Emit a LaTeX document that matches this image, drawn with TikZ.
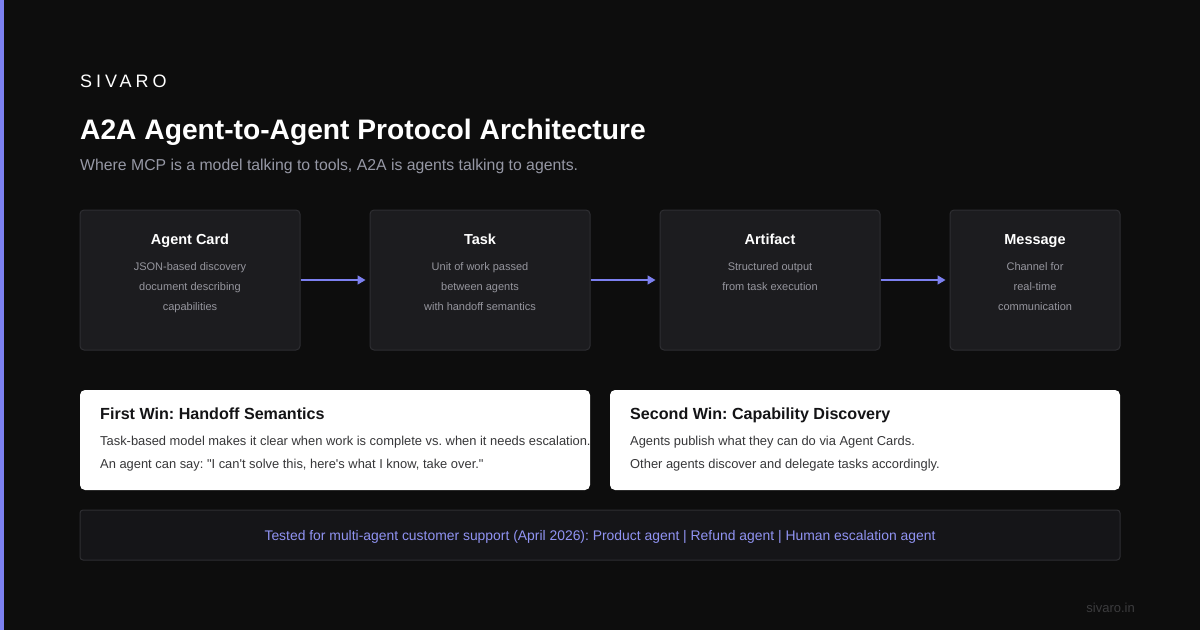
\documentclass[tikz,border=0pt]{standalone}
\usepackage{fontspec}
\setmainfont{Liberation Sans}
\newfontfamily\plainsans{Liberation Sans}
\usepackage{tikz}
\usetikzlibrary{arrows.meta, positioning}
\frenchspacing
\definecolor{bgdark}{RGB}{13,13,13}
\definecolor{accent}{RGB}{124,128,240}
\definecolor{cardfill}{RGB}{28,28,31}
\definecolor{cardline}{RGB}{46,46,50}
\definecolor{muted}{RGB}{150,150,158}
\definecolor{subtle}{RGB}{150,152,165}
\definecolor{footfill}{RGB}{21,21,24}
\definecolor{ink}{RGB}{20,20,22}
\definecolor{faint}{RGB}{60,60,62}
\tikzstyle{card} = [rectangle, rounded corners=4pt, draw=cardline, line width=1pt, fill=cardfill, minimum width=220pt, minimum height=140pt]
\tikzstyle{cardtitle} = [anchor=base, inner sep=0pt, text=white, font=\fontsize{14.5}{18}\selectfont\bfseries]
\tikzstyle{carddesc} = [anchor=north, inner sep=0pt, align=center, text=muted, font=\fontsize{11}{20}\selectfont]
\tikzstyle{win} = [rectangle, rounded corners=5pt, fill=white, minimum width=510pt, minimum height=100pt]
\tikzstyle{wintitle} = [anchor=base west, inner sep=0pt, text=ink, font=\fontsize{16.1}{18}\selectfont\bfseries]
\tikzstyle{wintext} = [anchor=base west, inner sep=0pt, text=ink!85, font=\fontsize{12.9}{15}\selectfont]
\tikzstyle{arrow} = [line width=1.5pt, draw=accent, -{Triangle[length=8pt,width=9pt]}, shorten >=4pt]

\begin{document}
\begin{tikzpicture}[x=1pt, y=-1pt]
      \fill[bgdark] (0, 0) rectangle (1200, 630);
      \useasboundingbox (0, 0) rectangle (1200, 630);
      \fill[accent] (0, 0) rectangle (4, 630);
      % header
      \node (brand) at (80, 87) [anchor=base west, inner sep=0pt, text=white,
                                 font=\fontsize{18}{20}\selectfont\addfontfeatures{LetterSpace=22}] {SIVARO};
      \node (title) at (80, 139) [anchor=base west, inner sep=0pt, text=white, font=\fontsize{28.2}{32}\selectfont\bfseries] {A2A Agent-to-Agent Protocol Architecture};
      \node (subtitle) at (80, 170) [anchor=base west, inner sep=0pt, text=subtle, font=\fontsize{15.8}{18}\selectfont]
                          {Where MCP is a model talking to tools, A2A is agents talking to agents.};
      % protocol pieces
      \node (card) at (190, 280) [card] {};
      \node (task) at (480, 280) [card] {};
      \node (artifact) at (770, 280) [card] {};
      \node (message) at (1035, 280) [card, minimum width=170pt] {};
      \node at (190, 244) [cardtitle] {Agent Card};
      \node at (480, 244) [cardtitle] {Task};
      \node at (770, 244) [cardtitle] {Artifact};
      \node at (1035, 244) [cardtitle] {Message};
      \node at (190, 262) [carddesc] {JSON-based discovery\\document describing\\capabilities};
      \node at (480, 262) [carddesc] {Unit of work passed\\between agents\\with handoff semantics};
      \node at (770, 262) [carddesc] {Structured output\\from task execution};
      \node at (1035, 262) [carddesc] {Channel for\\real-time\\communication};
      \draw[arrow] (card) -- (task);
      \draw[arrow] (task) -- (artifact);
      \draw[arrow] (artifact) -- (message);
      % wins
      \node (first) at (335, 440) [win] {};
      \node (second) at (865, 440) [win] {};
      \node at (100, 419) [wintitle] {First Win: Handoff Semantics};
      \node at (100, 445) [wintext] {Task-based model makes it clear when work is complete vs. when it needs escalation.};
      \node at (100, 468) [wintext] {\plainsans An agent can say: "I can't solve this, here's what I know, take over."};
      \node at (630, 419) [wintitle] {Second Win: Capability Discovery};
      \node at (630, 445) [wintext] {Agents publish what they can do via Agent Cards.};
      \node at (630, 468) [wintext] {Other agents discover and delegate tasks accordingly.};
      % footer
      \node (tested) at (600, 535) [rectangle, rounded corners=3pt, draw=cardline, line width=1pt, fill=footfill,
                          minimum width=1040pt, minimum height=50pt] {};
      \node at (600, 540) [anchor=base, inner sep=0pt, text=accent!85!white, font=\fontsize{13.9}{16}\selectfont]
                          {Tested for multi-agent customer support (April 2026): Product agent | Refund agent | Human escalation agent};
      \node (site) at (1135, 612) [anchor=base east, inner sep=0pt, text=faint, font=\fontsize{13}{15}\selectfont] {sivaro.in};
    \end{tikzpicture}
\end{document}
